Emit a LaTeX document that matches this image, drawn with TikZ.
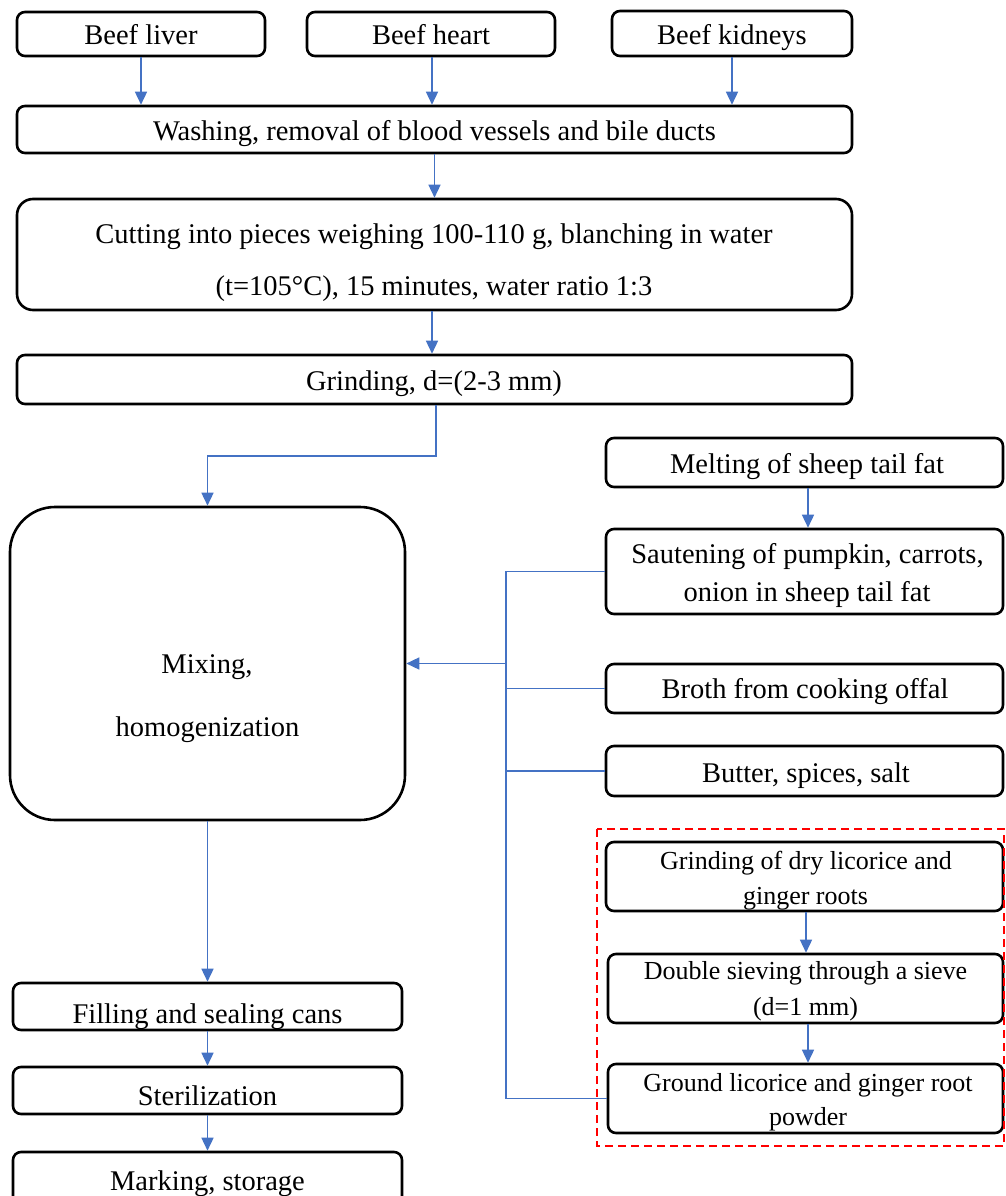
\documentclass[tikz,border=0pt]{standalone}
\usepackage{fontspec}
\setmainfont{Liberation Serif}
\usetikzlibrary{arrows.meta}
\definecolor{lnblue}{HTML}{4472C4}
\definecolor{dashred}{HTML}{FF0000}
\begin{document}
\begin{tikzpicture}[x=1pt,y=-1pt,
  box/.style={draw=black, line width=2.6pt, rounded corners=8pt, inner sep=0pt, fill=none},
  lbl/.style={anchor=base, inner sep=0pt, font=\fontsize{28.5}{34}\selectfont},
  slbl/.style={anchor=base, inner sep=0pt, font=\fontsize{26}{32}\selectfont},
  conn/.style={draw=lnblue, line width=1.5pt, -{Triangle[length=13pt,width=12pt]}},
  wire/.style={draw=lnblue, line width=1.5pt},
  group/.style={draw=dashred, line width=2.5pt, dash pattern=on 8pt off 5pt}]
\path[use as bounding box, clip] (0,0) rectangle (1005,1196);
\fill[white] (0,0) rectangle (1005,1196);

% ---- boxes ----
\node[box, minimum width=248pt, minimum height=44pt] (liver) at (141,34) {};
\node[box, minimum width=248pt, minimum height=44pt] (heart) at (431,34) {};
\node[box, minimum width=240pt, minimum height=45pt] (kidneys) at (732,33.5) {};
\node[box, minimum width=835pt, minimum height=47pt] (wash) at (434.5,129.5) {};
\node[box, rounded corners=16pt, minimum width=835pt, minimum height=111pt] (cut) at (434.5,254.5) {};
\node[box, minimum width=835pt, minimum height=49pt] (grind) at (434.5,379.5) {};
\node[box, rounded corners=45pt, minimum width=395pt, minimum height=313pt] (mix) at (207.5,663.5) {};
\node[box, minimum width=389pt, minimum height=47pt] (fill) at (207.5,1006.5) {};
\node[box, minimum width=389pt, minimum height=47pt] (ster) at (207.5,1090.5) {};
\node[box, minimum width=389pt, minimum height=88pt] (mark) at (207.5,1196) {};

\node[box, minimum width=397pt, minimum height=49pt] (melt) at (804.5,462.5) {};
\node[box, minimum width=397pt, minimum height=85pt] (saute) at (804.5,571.5) {};
\node[box, minimum width=397pt, minimum height=49pt] (broth) at (804.5,688.5) {};
\node[box, minimum width=397pt, minimum height=50pt] (butter) at (804.5,771) {};
\node[box, minimum width=397pt, minimum height=69pt] (gdry) at (804.5,876.5) {};
\node[box, minimum width=395pt, minimum height=69pt] (sieve) at (805.5,988.5) {};
\node[box, minimum width=395pt, minimum height=69pt] (ground) at (805.5,1098.5) {};

\draw[group] (597,829) rectangle (1004,1146);

% ---- texts ----
\node[lbl] (t-liver) at (141,45) {Beef liver};
\node[lbl] (t-heart) at (431,45) {Beef heart};
\node[lbl] (t-kidneys) at (732,45) {Beef kidneys};
\node[lbl] (t-wash) at (434.5,140) {Washing, removal of blood vessels and bile ducts};
\node[lbl] (t-cut1) at (434,243) {Cutting into pieces weighing 100-110 g, blanching in water};
\node[lbl] (t-cut2) at (434,295) {(t=105°C), 15 minutes, water ratio 1:3};
\node[lbl] (t-grind) at (434,390) {Grinding, d=(2-3 mm)};
\node[lbl] (t-mix1) at (207,673) {Mixing,};
\node[lbl] (t-mix2) at (207.5,736) {homogenization};
\node[lbl] (t-fill) at (207.5,1023) {Filling and sealing cans};
\node[lbl] (t-ster) at (207.5,1105) {Sterilization};
\node[lbl] (t-mark) at (207.5,1190) {Marking, storage};

\node[lbl] (t-melt) at (807,473) {Melting of sheep tail fat};
\node[lbl] (t-saute1) at (807.5,563) {Sautening of pumpkin, carrots,};
\node[lbl] (t-saute2) at (807,601) {onion in sheep tail fat};
\node[lbl] (t-broth) at (805,698) {Broth from cooking offal};
\node[lbl] (t-butter) at (806,782) {Butter, spices, salt};
\node[slbl] (t-gdry1) at (806,869) {Grinding of dry licorice and};
\node[slbl] (t-gdry2) at (805.5,904) {ginger roots};
\node[slbl] (t-sieve1) at (805.5,979) {Double sieving through a sieve};
\node[slbl] (t-sieve2) at (805.5,1015) {(d=1 mm)};
\node[slbl] (t-ground1) at (808,1091) {Ground licorice and ginger root};
\node[slbl] (t-ground2) at (808,1125) {powder};

% ---- connectors ----
\draw[conn] (liver.south) -- (liver.south |- wash.north);
\draw[conn] ([xshift=1pt]heart.south) -- ([xshift=1pt]heart.south |- wash.north);
\draw[conn] (kidneys.south) -- (kidneys.south |- wash.north);
\draw[conn] (wash.south) -- (wash.south |- cut.north);
\draw[conn] ([xshift=-2.5pt]cut.south) -- ([xshift=-2.5pt]cut.south |- grind.north);
\coordinate (j1) at (436,456);
\draw[conn] (grind.south -| j1) -- (j1) -| (mix.north);
\draw[conn] (mix.south) -- (fill.north);
\draw[conn] (fill.south) -- (ster.north);
\draw[conn] (ster.south) -- (mark.north);

\draw[conn] ([xshift=3.5pt]melt.south) -- ([xshift=3.5pt]saute.north);
\coordinate (bus) at (506,0);
\draw[wire] (saute.west) -- (saute.west -| bus) -- (ground.west -| bus) -- (ground.west);
\draw[wire] (broth.west) -- (broth.west -| bus);
\draw[wire] (butter.west) -- (butter.west -| bus);
\draw[conn] (mix.east -| bus) -- (mix.east);
\draw[conn] ([xshift=1.5pt]gdry.south) -- ([xshift=1.5pt]gdry.south |- sieve.north);
\draw[conn] ([xshift=2.5pt]sieve.south) -- ([xshift=2.5pt]sieve.south |- ground.north);
\end{tikzpicture}
\end{document}
